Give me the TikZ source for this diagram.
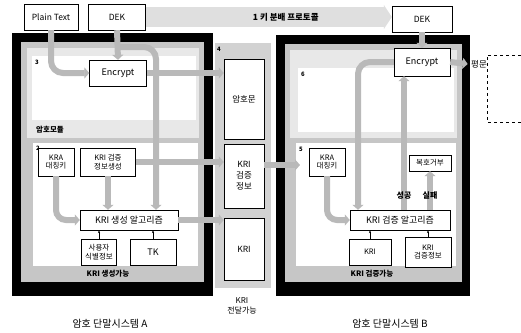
\documentclass[tikz,border=0pt]{standalone}
\usepackage{fontspec}
\setmainfont{Noto Sans CJK KR}
\usetikzlibrary{arrows.meta,positioning,calc}

\begin{document}
\begin{tikzpicture}[x=1pt, y=-1pt,
                font=\fontsize{7.5}{8.5}\selectfont,
                box/.style={draw=black, fill=white, thin, align=center, inner sep=1pt},
                pipe/.style={line width=6pt, draw=gray!55, -{Triangle[length=5pt, width=11pt]}},
                feed/.style={thin, -{Stealth[length=3pt]}},
                tag/.style={font=\fontsize{6}{6}\selectfont\bfseries},
                zone/.style={font=\fontsize{7.5}{8}\selectfont\bfseries},
                result/.style={font=\fontsize{8}{9}\selectfont\bfseries},
            ]
            \useasboundingbox (0,0) rectangle (521,332);
            % --- 암호 단말시스템 A 틀 ---
            \fill[black] (12,33) rectangle (213,296);
            \fill[gray!45] (21,42) rectangle (204,282);
            \fill[gray!18] (27,48) rectangle (199,138);
            \fill[white] (32,56) rectangle (196,120);
            \fill[white] (33,143) rectangle (198,266);
            \node[tag] at (37,62) {3};
            \node[zone] at (50,130) {암호모듈};
            \node[tag] at (38,148) {2};
            \node[zone] at (108,274) {KRI 생성가능};
            % --- 전달 영역 ---
            \fill[gray!35] (215,43) rectangle (271,288);
            \node[tag] at (219,49) {4};
            % --- 암호 단말시스템 B 틀 ---
            \fill[black] (276,35) rectangle (470,296);
            \fill[gray!45] (285,44) rectangle (462,282);
            \fill[gray!18] (290,50) rectangle (457,138);
            \fill[white] (298,68) rectangle (454,132);
            \fill[white] (296,143) rectangle (456,266);
            \node[tag] at (303,74) {6};
            \node[tag] at (301,149) {5};
            \node[zone] at (372,274) {KRI 검증가능};
            \draw[dashed] (521,55) -- (487,55) -- (487,122) -- (521,122);
            % --- 상단 입력 ---
            \node[box, minimum width=54pt, minimum height=26pt, font=\fontsize{8.5}{9}\selectfont] (plain) at (51,17) {Plain Text};
            \node[box, minimum width=57pt, minimum height=26pt, font=\fontsize{8.5}{9}\selectfont] (dekA) at (117,17) {DEK};
            \node[box, minimum width=60pt, minimum height=26pt, font=\fontsize{8.5}{9}\selectfont] (dekB) at (422,19) {DEK};
            % --- 시스템 A ---
            \node[box, minimum width=57pt, minimum height=26pt, font=\fontsize{9}{10}\selectfont] (encA) at (118,73) {Encrypt};
            \node[box, minimum width=36pt, minimum height=28pt] (kraA) at (56,162) {KRA\\대칭키};
            \node[box, minimum width=55pt, minimum height=28pt] (vgen) at (108,162) {KRI 검증\\정보생성};
            \node[box, minimum width=98pt, minimum height=20pt, font=\fontsize{9}{10}\selectfont] (genA) at (129,220) {KRI 생성 알고리즘};
            \node[box, minimum width=35pt, minimum height=26pt] (uid) at (99,252) {사용자\\식별정보};
            \node[box, minimum width=46pt, minimum height=26pt, font=\fontsize{9}{10}\selectfont] (tk) at (153,252) {TK};
            % --- 전달 ---
            \node[box, minimum width=40pt, minimum height=80pt, font=\fontsize{8.5}{9}\selectfont] (cipher) at (244,99) {암호문};
            \node[box, minimum width=40pt, minimum height=64pt, font=\fontsize{8.5}{11}\selectfont] (verinfo) at (244,176) {KRI\\검증\\정보};
            \node[box, minimum width=40pt, minimum height=62pt, font=\fontsize{8.5}{9}\selectfont] (kriM) at (244,249) {KRI};
            \node[align=center, font=\fontsize{8}{10}\selectfont] (relay) at (242,306) {KRI\\전달가능};
            % --- 시스템 B ---
            \node[box, minimum width=56pt, minimum height=28pt, font=\fontsize{9}{10}\selectfont] (encB) at (422,62) {Encrypt};
            \node[font=\fontsize{8.5}{9}\selectfont] (plainB) at (479,64) {평문};
            \node[box, minimum width=36pt, minimum height=28pt] (kraB) at (327,162) {KRA\\대칭키};
            \node[box, minimum width=42pt, minimum height=16pt] (rej) at (430,163) {복호거부};
            \node[box, minimum width=100pt, minimum height=20pt, font=\fontsize{9}{10}\selectfont] (verB) at (400,220) {KRI 검증 알고리즘};
            \node[box, minimum width=42pt, minimum height=26pt] (kriB) at (370,252) {KRI};
            \node[box, minimum width=46pt, minimum height=30pt] (vinfoB) at (428,252) {KRI\\검증정보};
            % --- 하단 이름 ---
            \node[font=\fontsize{10}{11}\selectfont] (nameA) at (110,324) {암호 단말시스템 A};
            \node[font=\fontsize{10}{11}\selectfont] (nameB) at (390,324) {암호 단말시스템 B};
            % --- 키 분배 프로토콜 ---
            \draw[line width=20pt, draw=gray!25, -{Triangle[length=8pt, width=24pt]}] (dekA.east) -- (dekA.east -| dekB.west)
                node[midway, xshift=17pt, font=\fontsize{8.5}{9}\selectfont\bfseries] {1 키 분배 프로토콜};
            % --- A 흐름 ---
            \coordinate (dekTap) at (117,47);
            \draw[pipe, rounded corners=12pt] (plain.south) |- (encA.west);
            \draw[pipe, rounded corners=12pt] (dekTap) -| ([xshift=27pt]genA.north);
            \draw[pipe] (dekA.south) -- (encA.north);
            \draw[pipe] (encA.east) -- (encA.east -| cipher.west);
            \draw[pipe, rounded corners=10pt] (kraA.south) |- (genA.west);
            \draw[pipe] (vgen.south) -- (vgen.south |- genA.north);
            \draw[pipe] (vgen.east) -- (vgen.east -| verinfo.west);
            \draw[pipe] (genA.east) -- (genA.east -| kriM.west);
            \foreach \s in {uid,tk} \draw[feed] (\s.north) -- (\s.north |- genA.south);
            % --- B 흐름 ---
            \coordinate (bIn) at (300,165);
            \draw[pipe] (verinfo.east |- bIn) -- (bIn);
            \draw[pipe] (dekB.south) -- (encB.north);
            \draw[pipe] (encB.east) -- (plainB.west);
            \draw[pipe, rounded corners=12pt] (encB.west) -| ([xshift=-42pt]verB.north);
            \draw[pipe, rounded corners=10pt] (kraB.south) |- (verB.west);
            \draw[pipe] ([xshift=4pt]verB.north) -- node[pos=0.11, result] {성공} ([xshift=4pt]verB.north |- encB.south);
            \draw[pipe] (rej.south |- verB.north) -- node[pos=0.38, result] {실패} (rej.south);
            \foreach \s in {kriB,vinfoB} \draw[feed] (\s.north) -- (\s.north |- verB.south);
        \end{tikzpicture}
\end{document}
